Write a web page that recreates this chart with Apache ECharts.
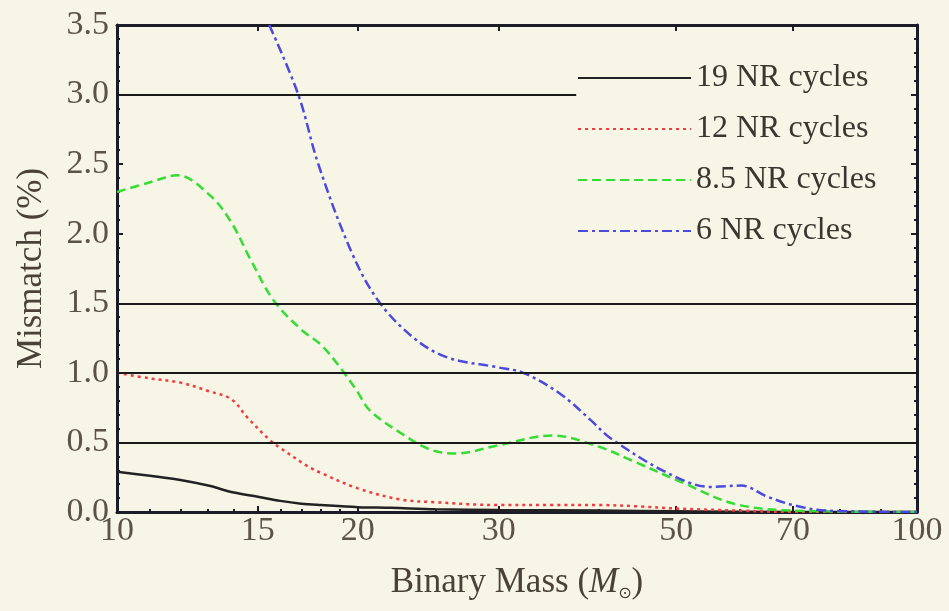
<!DOCTYPE html>
<html>
<head>
<meta charset="utf-8">
<script src="https://cdn.jsdelivr.net/npm/echarts@6/dist/echarts.min.js"></script>
<style>
  html, body { margin: 0; padding: 0; background: #f7f5e5; }
  #chart { width: 949px; height: 611px; }
</style>
</head>
<body>
<div id="chart"></div>
<script>
// values (binary mass in solar masses, mismatch in %)
const massTicks = [10, 15, 20, 30, 50, 70, 100]
const minorMass = [11, 12, 13, 14, 16, 17, 18, 19, 25, 40, 60, 80, 90]

const mass19 = [10, 11, 12, 13, 14, 15, 16, 17, 18, 20, 22, 25, 30, 40, 50, 70, 100]
const mismatch19 = [0.29, 0.26, 0.23, 0.19, 0.14, 0.11, 0.08, 0.06, 0.05, 0.035, 0.03, 0.02, 0.015, 0.01, 0.005, 0, 0]

const mass12 = [10, 11, 12, 13, 13.9, 14.55, 15.5, 16, 17.3, 18, 20, 22.6, 25, 30, 35, 40, 45, 50, 60, 70, 100]
const mismatch12 = [1.0, 0.96, 0.93, 0.87, 0.81, 0.68, 0.52, 0.46, 0.33, 0.28, 0.17, 0.09, 0.07, 0.05, 0.05, 0.05, 0.04, 0.025, 0.01, 0, 0]

const mass85 = [10, 11, 11.9, 13.1, 13.9, 14.7, 15.7, 17, 18, 19, 20, 20.7, 22.6, 24.6, 26.5, 30, 35, 40, 44, 51, 59, 70, 100]
const mismatch85 = [2.3, 2.37, 2.42, 2.27, 2.08, 1.81, 1.52, 1.31, 1.2, 1.04, 0.86, 0.73, 0.57, 0.45, 0.42, 0.48, 0.55, 0.47, 0.37, 0.21, 0.06, 0.01, 0]

const mass6 = [15.5, 16.85, 17.85, 19.6, 21.2, 23.5, 25.9, 29.9, 32.2, 35.8, 39.1, 41.4, 48.8, 55.2, 60.3, 65, 70, 77, 100]
const mismatch6 = [3.5, 3.0, 2.5, 1.88, 1.52, 1.25, 1.11, 1.04, 1.0, 0.85, 0.66, 0.53, 0.28, 0.18, 0.19, 0.11, 0.05, 0.01, 0]

const refLevels = [0.5, 1.0, 1.5]
const shortRefLevel = 3.0
const shortRefEnd = 37.5

const seriesNames = ['19 NR cycles', '12 NR cycles', '8.5 NR cycles', '6 NR cycles']

function pairs(xs, ys) {
  return xs.map((x, i) => [x, ys[i]])
}

let chart = echarts.init(document.getElementById('chart'), null, { width: 949, height: 611 })

const serif = 'Liberation Serif, Times New Roman, serif'
const axisColor = '#1c1c28'

let refLines = refLevels.map(v => ({ yAxis: v }))
refLines.push([{ coord: [10, shortRefLevel] }, { coord: [shortRefEnd, shortRefLevel] }])

var option = {
  backgroundColor: '#f7f5e5',
  animation: false,
  grid: { left: 117, right: 32, top: 25, bottom: 99 },
  legend: {
    data: seriesNames,
    orient: 'vertical',
    left: 577,
    top: 62,
    padding: 0,
    itemWidth: 113,
    itemHeight: 14,
    itemGap: 19,
    itemStyle: { opacity: 0 },
    textStyle: { fontFamily: serif, fontSize: 32, color: '#3b3630', lineHeight: 32 }
  },
  xAxis: [
    {
      type: 'log', logBase: 10, min: 10, max: 100,
      name: '{n|Binary Mass (}{m|M}{s|⊙}{n|)}',
      nameLocation: 'middle',
      nameGap: 52,
      nameTextStyle: {
        rich: {
          n: { fontFamily: serif, fontSize: 35, color: '#4a4238' },
          m: { fontFamily: serif, fontSize: 35, fontStyle: 'italic', color: '#4a4238' },
          s: { fontFamily: 'DejaVu Sans', fontSize: 16, color: '#4a4238', padding: [22, 0, 0, 0] }
        }
      },
      axisLine: { lineStyle: { color: axisColor, width: 3 } },
      axisTick: { inside: true, length: 6, lineStyle: { color: axisColor, width: 2 }, customValues: massTicks },
      axisLabel: {
        customValues: massTicks, margin: 2,
        fontFamily: serif, fontSize: 34, color: '#5c5348'
      },
      splitLine: { show: false }
    },
    {
      type: 'log', logBase: 10, min: 10, max: 100, position: 'bottom',
      axisLine: { show: false },
      axisTick: { inside: true, length: 3, lineStyle: { color: axisColor, width: 2 }, customValues: minorMass },
      axisLabel: { show: false },
      splitLine: { show: false }
    },
    {
      type: 'log', logBase: 10, min: 10, max: 100, position: 'top',
      axisLine: { lineStyle: { color: axisColor, width: 3 } },
      axisTick: { inside: true, length: 6, lineStyle: { color: axisColor, width: 2 }, customValues: massTicks },
      axisLabel: { show: false },
      splitLine: { show: false }
    }
  ],
  yAxis: [
    {
      type: 'value', min: 0, max: 3.5, interval: 0.5,
      name: 'Mismatch (%)',
      nameLocation: 'middle',
      nameGap: 68,
      nameTextStyle: { fontFamily: serif, fontSize: 35, color: '#4a4238' },
      axisLine: { lineStyle: { color: axisColor, width: 3 } },
      axisTick: { inside: true, length: 6, lineStyle: { color: axisColor, width: 2 } },
      minorTick: { show: true, splitNumber: 5, length: 3, lineStyle: { color: axisColor, width: 2 } },
      axisLabel: {
        margin: 8, fontFamily: serif, fontSize: 34, color: '#5c5348',
        formatter: v => v.toFixed(1)
      },
      splitLine: { show: false }
    },
    {
      type: 'value', min: 0, max: 3.5, interval: 0.5, position: 'right',
      axisLine: { show: true, lineStyle: { color: axisColor, width: 3 } },
      axisTick: { show: true, inside: true, length: 6, lineStyle: { color: axisColor, width: 2 } },
      minorTick: { show: true, splitNumber: 5, length: 3, lineStyle: { color: axisColor, width: 2 } },
      axisLabel: { show: false },
      splitLine: { show: false }
    }
  ],
  series: [
    {
      name: seriesNames[0], type: 'line', symbol: 'none', smooth: 0.35,
      data: pairs(mass19, mismatch19),
      lineStyle: { color: '#222222', width: 2.5 }, itemStyle: { color: '#222222' },
      markLine: {
        silent: true, symbol: 'none', label: { show: false },
        lineStyle: { color: '#1a1a1a', width: 2, type: 'solid' },
        data: refLines
      }
    },
    {
      name: seriesNames[1], type: 'line', symbol: 'none', smooth: 0.35,
      data: pairs(mass12, mismatch12),
      lineStyle: { color: '#f03c3c', width: 2.5, type: [3, 4] }, itemStyle: { color: '#f03c3c' }
    },
    {
      name: seriesNames[2], type: 'line', symbol: 'none', smooth: 0.35,
      data: pairs(mass85, mismatch85),
      lineStyle: { color: '#33dd33', width: 2.5, type: [9, 5] }, itemStyle: { color: '#33dd33' }
    },
    {
      name: seriesNames[3], type: 'line', symbol: 'none', smooth: 0.35,
      data: pairs(mass6, mismatch6),
      lineStyle: { color: '#4a4ae0', width: 2.5, type: [10, 4, 3, 4] }, itemStyle: { color: '#4a4ae0' }
    }
  ]
}

chart.setOption(option)
</script>
</body>
</html>
